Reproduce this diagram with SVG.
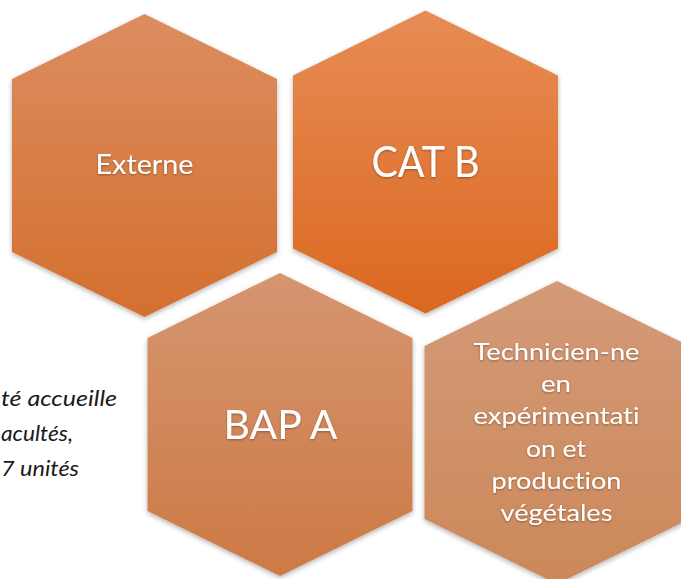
<svg xmlns="http://www.w3.org/2000/svg" width="681" height="579" viewBox="0 0 681 579">
<defs>
<linearGradient id="g1" x1="0" y1="0" x2="0" y2="1"><stop offset="0" stop-color="#DC8D60"/><stop offset="1" stop-color="#D46F2F"/></linearGradient>
<linearGradient id="g2" x1="0" y1="0" x2="0" y2="1"><stop offset="0" stop-color="#E78C55"/><stop offset="1" stop-color="#DB6820"/></linearGradient>
<linearGradient id="g3" x1="0" y1="0" x2="0" y2="1"><stop offset="0" stop-color="#D69570"/><stop offset="1" stop-color="#CC7A45"/></linearGradient>
<linearGradient id="g4" x1="0" y1="0" x2="0" y2="1"><stop offset="0" stop-color="#D39A78"/><stop offset="1" stop-color="#CC8859"/></linearGradient>
<filter id="sh" x="-10%" y="-10%" width="120%" height="120%"><feDropShadow dx="0" dy="2" stdDeviation="2.5" flood-color="#000" flood-opacity="0.3"/></filter>
<filter id="ts" x="-10%" y="-30%" width="120%" height="160%"><feDropShadow dx="0" dy="1" stdDeviation="1.2" flood-color="#000" flood-opacity="0.35"/></filter>
</defs>
<style>
.lbl{font-family:"Lato","Open Sans","Liberation Sans",sans-serif;fill:#fff;text-anchor:middle;filter:url(#ts);font-variant-ligatures:none}
.side{font-family:"Lato","Open Sans","Liberation Sans",sans-serif;font-style:italic;fill:#1a1a1a;font-size:21px;font-variant-ligatures:none}
</style>
<rect width="681" height="579" fill="#fff"/>
<g id="side-text">
<text class="side" x="1" y="406" textLength="116" lengthAdjust="spacingAndGlyphs">té accueille</text>
<text class="side" x="1" y="441" textLength="72" lengthAdjust="spacingAndGlyphs">acultés,</text>
<text class="side" x="1" y="476" textLength="78" lengthAdjust="spacingAndGlyphs">7 unités</text>
</g>
<g id="connectors"></g>
<g id="externe">
<polygon points="144.5,14 277,79 277,252 144.5,317 12,252 12,79" fill="url(#g1)" filter="url(#sh)"/>
<text class="lbl" x="144.5" y="173.5" font-size="26" textLength="98" lengthAdjust="spacingAndGlyphs">Externe</text>
</g>
<g id="catb">
<polygon points="425.5,10.5 558,75.5 558,248.5 425.5,313.5 293,248.5 293,75.5" fill="url(#g2)" filter="url(#sh)"/>
<text class="lbl" x="425.5" y="176.5" font-size="42" textLength="108" lengthAdjust="spacingAndGlyphs">CAT B</text>
</g>
<g id="bapa">
<polygon points="280,273 412.5,338 412.5,511 280,576 147.5,511 147.5,338" fill="url(#g3)" filter="url(#sh)"/>
<text class="lbl" x="280.5" y="438.5" font-size="40" textLength="114" lengthAdjust="spacingAndGlyphs">BAP A</text>
</g>
<g id="technicien">
<polygon points="557,281 689.5,346 689.5,519 557,584 424.5,519 424.5,346" fill="url(#g4)" filter="url(#sh)"/>
<g font-size="23">
<text class="lbl" x="556.5" y="359.5" textLength="166" lengthAdjust="spacingAndGlyphs">Technicien-ne</text>
<text class="lbl" x="556" y="391.5" textLength="30" lengthAdjust="spacingAndGlyphs">en</text>
<text class="lbl" x="556.5" y="424" textLength="166" lengthAdjust="spacingAndGlyphs">expérimentati</text>
<text class="lbl" x="556" y="456.5" textLength="60" lengthAdjust="spacingAndGlyphs">on et</text>
<text class="lbl" x="556.5" y="489" textLength="130" lengthAdjust="spacingAndGlyphs">production</text>
<text class="lbl" x="556.5" y="521" textLength="112" lengthAdjust="spacingAndGlyphs">végétales</text>
</g>
</g>
</svg>
